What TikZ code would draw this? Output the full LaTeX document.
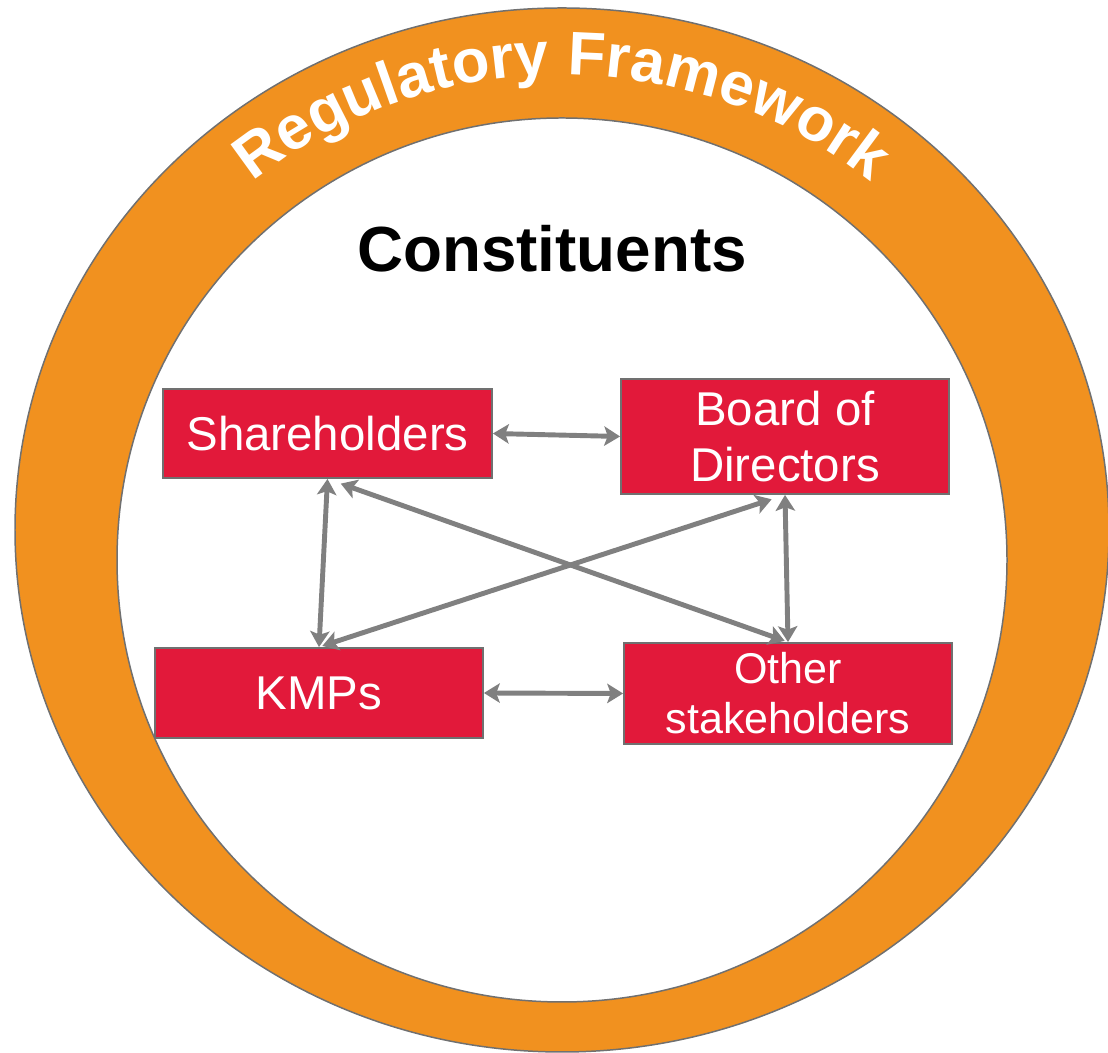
\documentclass[tikz,border=0pt]{standalone}
\usepackage{fontspec}
\setmainfont{Liberation Sans}
\usetikzlibrary{arrows.meta,decorations.text}
\definecolor{ringorange}{HTML}{F1911F}
\definecolor{boxred}{HTML}{E2193A}
\definecolor{edgegray}{HTML}{707070}
\definecolor{arrowgray}{HTML}{808080}
\newcommand{\ringfont}{\bfseries\fontsize{35}{35}\selectfont}

\begin{document}
\begin{tikzpicture}[x=0.02cm, y=0.02cm,
  cbox/.style={draw=edgegray, line width=1.1pt, fill=boxred, text=white, align=center,
    inner sep=0pt, font=\fontsize{27}{32}\selectfont},
  conn/.style={draw=arrowgray, line width=2.8pt,
    {Stealth[length=9pt,width=11pt,inset=2pt]}-{Stealth[length=9pt,width=11pt,inset=2pt]}}]
\useasboundingbox (0,0) rectangle (1108,1053);

% ring
\draw[fill=ringorange, draw=edgegray, line width=0.85pt] (562,523) ellipse [x radius=547, y radius=522];
\draw[fill=white, draw=edgegray, line width=0.85pt] (562,493) ellipse [x radius=445, y radius=442];
\path[decorate, decoration={text along path, text align=center, text color=white,
    text={|\ringfont|Regulatory Framework}}]
  (82,523) arc [start angle=180, end angle=0, x radius=480, y radius=455];

% title
\node[font=\bfseries\fontsize{36.3}{40}\selectfont, anchor=base] (title) at (552,781) {Constituents};

% constituents
\node[cbox, minimum width=6.58cm, minimum height=1.78cm] (sh) at (327.5,619.5) {Shareholders};
\node[cbox, minimum width=6.56cm, minimum height=2.3cm] (bod) at (785,616.5) {Board of\\Directors};
\node[cbox, minimum width=6.56cm, minimum height=1.8cm] (kmp) at (319,360) {KMPs};
\node[cbox, minimum width=6.56cm, minimum height=2.02cm, font=\fontsize{24.5}{28.5}\selectfont]
  (oth) at (788,359.5) {Other\\stakeholders};

% links
\foreach \a/\b in {sh.east/bod.west, kmp.east/oth.west, sh.south/kmp.north, bod.south/oth.north}
  \draw[conn] (\a) -- (\b);
\foreach \a/\b in {sh.south/oth.north, bod.south/kmp.north}
  \draw[conn, shorten <=8pt, shorten >=2pt] (\a) -- (\b);

\end{tikzpicture}
\end{document}
